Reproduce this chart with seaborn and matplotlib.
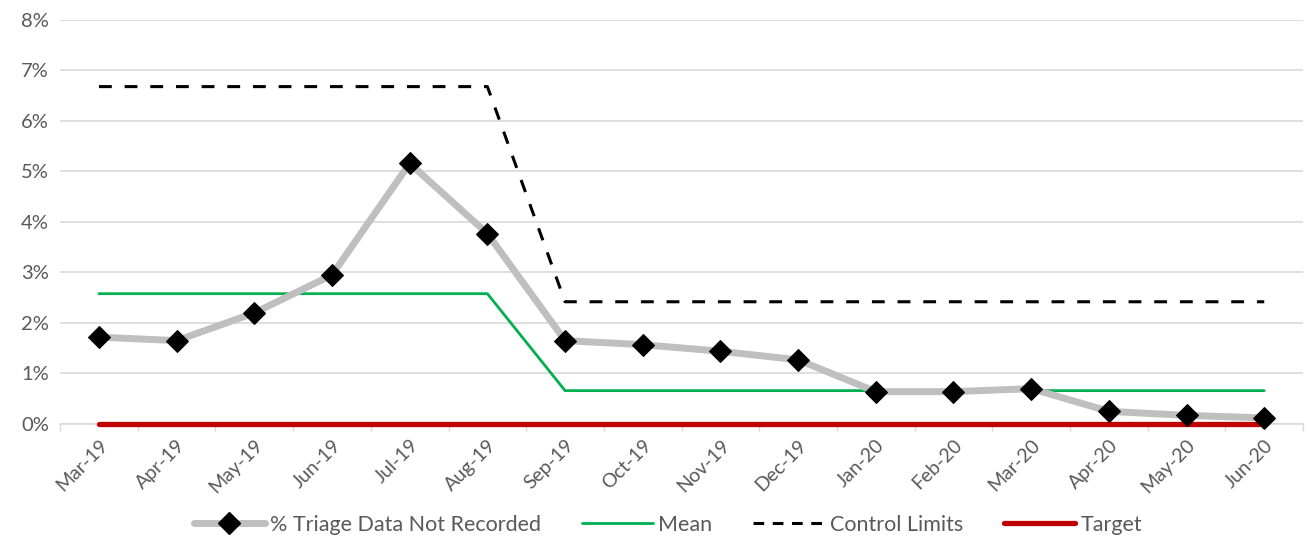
import matplotlib
matplotlib.use("Agg")
import matplotlib.pyplot as plt
import seaborn as sns
import pandas as pd
import numpy as np
from matplotlib.ticker import FixedLocator, FuncFormatter
from matplotlib.lines import Line2D

months = ["Mar-19", "Apr-19", "May-19", "Jun-19", "Jul-19", "Aug-19", "Sep-19", "Oct-19",
          "Nov-19", "Dec-19", "Jan-20", "Feb-20", "Mar-20", "Apr-20", "May-20", "Jun-20"]
not_recorded = [1.72, 1.65, 2.20, 2.95, 5.16, 3.77, 1.65, 1.57,
                1.44, 1.27, 0.64, 0.64, 0.70, 0.25, 0.17, 0.12]
mean_vals = [2.58, 2.58, 2.58, 2.58, 2.58, 2.58, 0.66, 0.66,
             0.66, 0.66, 0.66, 0.66, 0.66, 0.66, 0.66, 0.66]
control_vals = [6.68, 6.68, 6.68, 6.68, 6.68, 6.68, 2.42, 2.42,
                2.42, 2.42, 2.42, 2.42, 2.42, 2.42, 2.42, 2.42]
target_vals = [0.0] * 16

df = pd.DataFrame({
    "pos": np.arange(len(months)),
    "month": months,
    "value": not_recorded,
    "mean": mean_vals,
    "control": control_vals,
    "target": target_vals,
})

sns.set_theme(style="white")
plt.rcParams["font.family"] = ["Lato", "DejaVu Sans"]

fig = plt.figure(figsize=(13.07, 5.39), dpi=100)
ax = fig.add_axes([0.046, 0.2134, 0.951, 0.7496])

grey = "#BFBFBF"
green = "#00B050"
red = "#C00000"
text_grey = "#595959"
dash = (0, (4.2, 4.2))

sns.lineplot(data=df, x="pos", y="value", ax=ax, color=grey, linewidth=5,
             marker="D", markersize=11.5, markerfacecolor="black",
             markeredgecolor="black", zorder=5, clip_on=False)
sns.lineplot(data=df, x="pos", y="mean", ax=ax, color=green, linewidth=2, zorder=3)
sns.lineplot(data=df, x="pos", y="control", ax=ax, color="black", linewidth=2.2,
             linestyle=dash, zorder=3)
sns.lineplot(data=df, x="pos", y="target", ax=ax, color=red, linewidth=3.8,
             zorder=4, clip_on=False)

ax.set_xlim(-0.5, len(months) - 0.5)
ax.set_ylim(0, 8)
ax.set_xlabel("")
ax.set_ylabel("")

# y axis: percent gridlines
ax.yaxis.set_major_locator(FixedLocator(range(0, 9)))
ax.yaxis.set_major_formatter(FuncFormatter(lambda v, _: f"{int(v)}%"))
ax.grid(axis="y", color="#D9D9D9", linewidth=1.2)
ax.tick_params(axis="y", length=0, labelsize=14.5, labelcolor=text_grey, pad=8)

# x axis: labels at categories, tick marks between categories
ax.set_xticks(df["pos"])
ax.set_xticklabels(months, rotation=45, ha="right", rotation_mode="anchor",
                   fontsize=14, color=text_grey)
ax.set_xticks(np.arange(-0.5, len(months)), minor=True)
ax.tick_params(axis="x", which="major", length=0, pad=9)
ax.tick_params(axis="x", which="minor", length=5, width=1, color="#D9D9D9",
               direction="out", bottom=True)

for side in ["top", "right", "left"]:
    ax.spines[side].set_visible(False)
ax.spines["bottom"].set_color("#D9D9D9")
ax.spines["bottom"].set_linewidth(1.2)

handles = [
    Line2D([], [], color=grey, linewidth=5, marker="D", markersize=11.5,
           markerfacecolor="black", markeredgecolor="black"),
    Line2D([], [], color=green, linewidth=2),
    Line2D([], [], color="black", linewidth=2.2, linestyle=(0, (3.5, 2.8))),
    Line2D([], [], color=red, linewidth=3.8),
]
labels = ["% Triage Data Not Recorded", "Mean", "Control Limits", "Target"]
fig.legend(handles, labels, loc="center", bbox_to_anchor=(0.511, 0.026), ncol=4,
           frameon=False, fontsize=15.5, handlelength=3.3, handletextpad=0.25,
           columnspacing=1.9, labelcolor=text_grey)

fig.savefig("out.png", dpi=100)
